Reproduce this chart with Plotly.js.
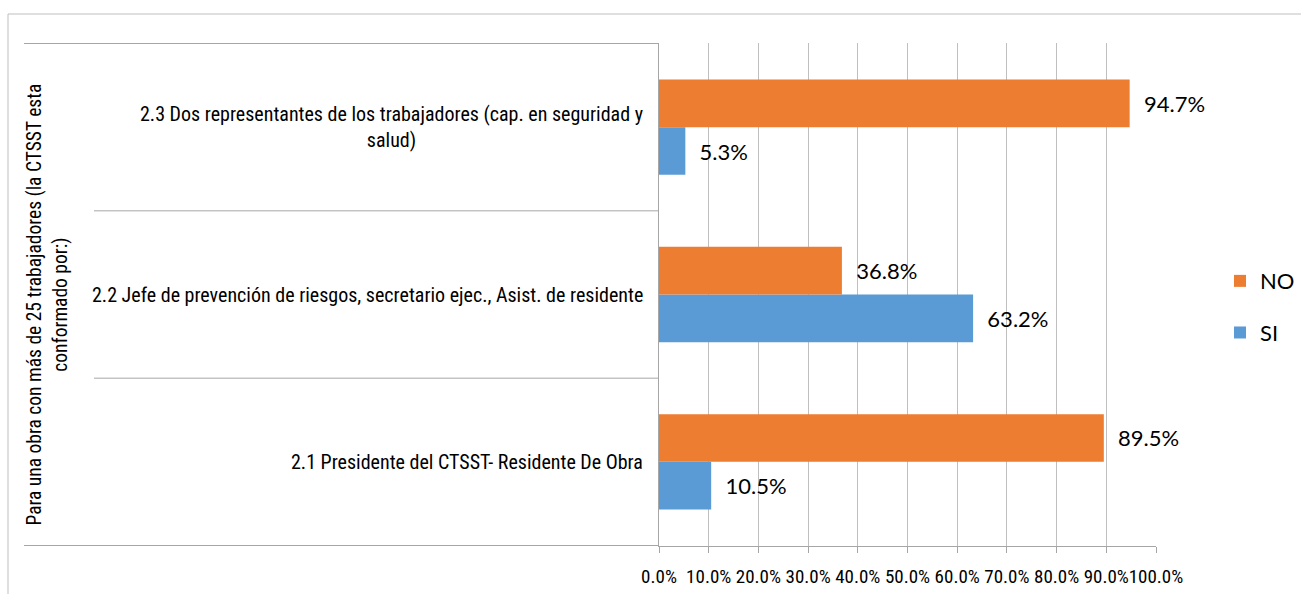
<!DOCTYPE html>
<html>
<head>
<meta charset="utf-8">
<script src="https://cdn.plot.ly/plotly-3.0.1.min.js"></script>
<style>
  body { margin: 0; background: #fff; }
  #chart { width: 1301px; height: 594px; }
</style>
</head>
<body>
<div id="chart"></div>
<script>
const categories = [
  "2.1 Presidente del CTSST- Residente De Obra",
  "2.2 Jefe de prevención de riesgos, secretario ejec., Asist. de residente",
  "2.3 Dos representantes de los trabajadores (cap. en seguridad y<br>salud)",
];
const groupLabel = "Para una obra con más de 25 trabajadores (la CTSST esta<br>conformado por:)";
const siValues = [10.5, 63.2, 5.3];
const noValues = [89.5, 36.8, 94.7];
const tickVals = [0, 10, 20, 30, 40, 50, 60, 70, 80, 90, 100];

const narrow = "Liberation Sans Narrow, Arial Narrow, Roboto Condensed, sans-serif";
const labelFont = { family: "Lato, Carlito, Calibri, sans-serif", size: 22, color: "#000" };
const lineColor = "#a6a6a6";

// plot area in px: x 659..1156, y 43..546
const plotW = 497;
const px = (p) => (p - 659) / plotW;

var data = [
  {
    type: "bar",
    name: "SI",
    orientation: "h",
    y: categories,
    x: siValues,
    marker: { color: "#5b9bd5" },
    texttemplate: "\u00a0\u00a0%{x:.1f}%",
    textposition: "outside",
    textfont: labelFont,
    cliponaxis: false,
    legendgroup: "si",
    legendrank: 2,
    hoverinfo: "none",
  },
  {
    type: "bar",
    name: "NO",
    orientation: "h",
    y: categories,
    x: noValues,
    marker: { color: "#ed7d31" },
    texttemplate: "\u00a0\u00a0%{x:.1f}%",
    textposition: "outside",
    textfont: labelFont,
    cliponaxis: false,
    legendgroup: "no",
    legendrank: 1,
    hoverinfo: "none",
  },
];

// outer frame and separator lines of the category table
var shapes = [
  { type: "rect", xref: "paper", yref: "paper", x0: px(8), x1: px(1320), y0: -0.2, y1: (546 - 14) / 503,
    line: { color: "#bfbfbf", width: 1 } },
];
[[-0.5, 24], [0.5, 94], [1.5, 94], [2.5, 24]].forEach(function (s) {
  shapes.push({ type: "line", xref: "paper", yref: "y", x0: px(s[1]), x1: 0, y0: s[0], y1: s[0],
    line: { color: lineColor, width: 1 } });
});

var annotations = categories.map(function (c) {
  return { xref: "paper", yref: "y", x: px(645), y: c, xanchor: "right", yanchor: "middle",
    text: c, align: "center", showarrow: false,
    font: { family: narrow, size: 20, color: "#000" } };
});
annotations.push({ xref: "paper", yref: "paper", x: px(47), y: 0.48, xanchor: "center", yanchor: "middle",
  text: groupLabel, textangle: -90, align: "center", showarrow: false,
  font: { family: narrow, size: 19.5, color: "#000" } });

var layout = {
  width: 1301,
  height: 594,
  margin: { l: 659, r: 145, t: 43, b: 48, autoexpand: false },
  paper_bgcolor: "#fff",
  plot_bgcolor: "#fff",
  barmode: "group",
  bargap: 0.43,
  bargroupgap: 0,
  showlegend: true,
  legend: {
    x: px(1220), y: 0.475, xanchor: "left", yanchor: "middle",
    traceorder: "grouped", tracegroupgap: 20,
    font: labelFont,
  },
  xaxis: {
    range: [0, 100],
    tickvals: tickVals,
    ticktext: tickVals.map((v) => v.toFixed(1) + "%"),
    tickangle: 0,
    ticklabelstandoff: 7,
    showgrid: true,
    gridcolor: "#bfbfbf",
    showline: true,
    linecolor: lineColor,
    ticks: "outside",
    ticklen: 6,
    tickcolor: lineColor,
    zeroline: false,
    tickfont: { family: narrow, size: 19, color: "#000" },
    fixedrange: true,
  },
  yaxis: {
    type: "category",
    showticklabels: false,
    showgrid: false,
    showline: true,
    linecolor: lineColor,
    ticks: "",
    zeroline: false,
    fixedrange: true,
  },
  shapes: shapes,
  annotations: annotations,
};

Plotly.newPlot("chart", data, layout, { displayModeBar: false, staticPlot: true });
</script>
</body>
</html>
